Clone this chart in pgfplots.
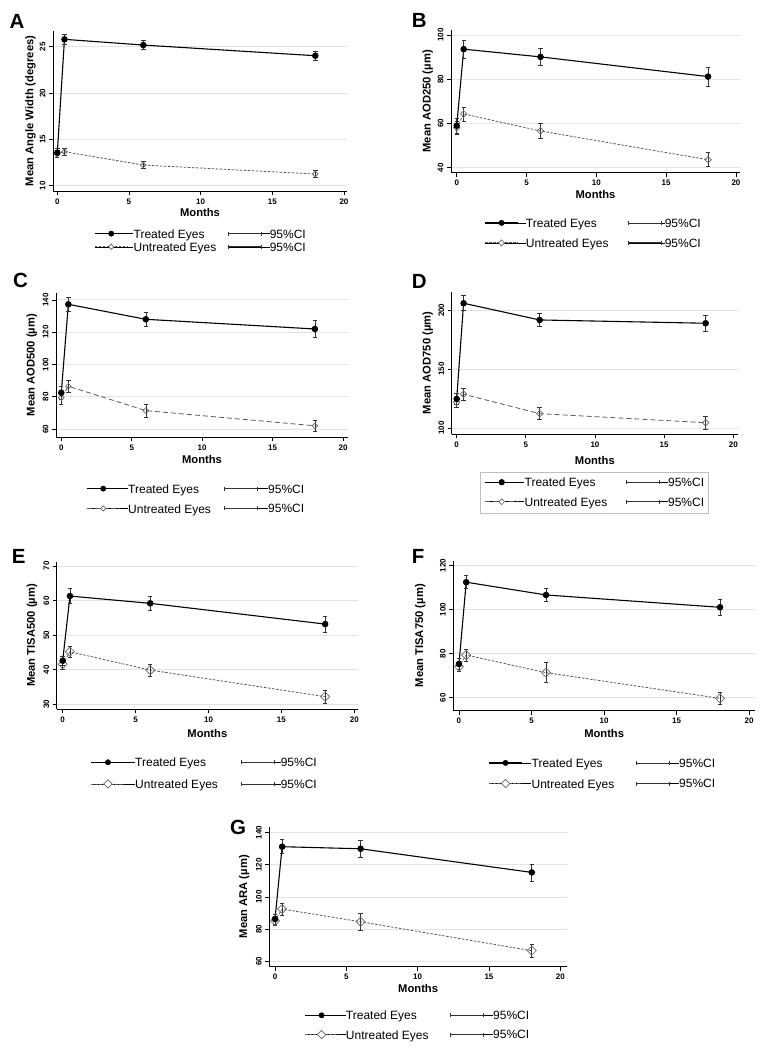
\documentclass[border=0pt]{standalone}
\usepackage{fontspec}
\setmainfont{Liberation Sans}
\usepackage{pgfplots}
\pgfplotsset{compat=1.18}

\pgfplotsset{
 panel/.style={
  scale only axis, axis lines=left, axis line style={-, line width=0.9pt, black},
  tick align=outside, major tick length=4pt, tick style={line width=0.8pt, black},
  xtick={0,5,10,15,20}, ymajorgrids, grid style={black!11, line width=0.9pt},
  tick label style={font=\bfseries\fontsize{8}{9.6}\selectfont},
  /pgf/number format/assume math mode=true,
  yticklabel style={rotate=90, anchor=south},
  label style={font=\bfseries\fontsize{11.2}{13}\selectfont},
  xlabel={Months},
  legend columns=2,
  legend cell align=left,
  legend style={draw=none, fill=none, inner sep=0pt, column sep=0pt,
    font=\fontsize{12}{14}\selectfont, nodes={inner sep=0pt}, anchor=north west},
 },
 errs/.style={forget plot,
  error bars/y dir=both, error bars/y explicit,
  error bars/error bar style={solid, line width=0.65pt, black!80},
  error bars/error mark options={solid, rotate=90, mark size=2.2pt, line width=0.65pt, black!80}},
 treated/.style={errs, black, line width=1.1pt, mark=*, mark size=2.7pt, mark options={solid, fill=black}},
 untreated/.style={errs, black!65, line width=0.8pt, mark=square, mark options={solid, rotate=45, fill=white, draw=black!60, line width=0.7pt}},
 sdash/.style={dash pattern=on 2.5pt off 1.5pt},
 ldash/.style={dash pattern=on 5pt off 3pt},
}

\newcommand{\myleg}[5]{%
 \addlegendimage{legend image code/.code={%
   \path (0pt,1pt) -- (#1pt,1pt);
   \draw[black, line width=1.1pt] (0pt,1pt) -- (33pt,1pt);
   \fill[black] (16.5pt,1pt) circle (2.7pt);}}
 \addlegendentry{\rule[-3pt]{0pt}{9pt}\makebox[#2pt][l]{Treated Eyes}}
 \addlegendimage{legend image code/.code={%
   \path (0pt,1pt) -- (#3pt,1pt);
   \draw[black!80, line width=0.65pt] (0pt,1pt) -- (33pt,1pt) (0pt,-1pt) -- (0pt,3pt) (33pt,-1pt) -- (33pt,3pt);}}
 \addlegendentry{\rule[-3pt]{0pt}{9pt}95\%CI}
 \addlegendimage{legend image code/.code={%
   \path (0pt,1pt) -- (#1pt,1pt);
   \draw[black!65, line width=0.8pt, #4] (0pt,1pt) -- (33pt,1pt);
   \draw[black!60, fill=white, line width=0.7pt, solid] (16.5pt,1pt) +(-#5pt,0pt) -- +(0pt,#5pt) -- +(#5pt,0pt) -- +(0pt,-#5pt) -- cycle;}}
 \addlegendentry{\rule[-3pt]{0pt}{9pt}\makebox[#2pt][l]{Untreated Eyes}}
 \addlegendimage{legend image code/.code={%
   \path (0pt,1pt) -- (#3pt,1pt);
   \draw[black!80, line width=0.65pt] (0pt,1pt) -- (33pt,1pt) (0pt,-1pt) -- (0pt,3pt) (33pt,-1pt) -- (33pt,3pt);}}
 \addlegendentry{\rule[-3pt]{0pt}{9pt}95\%CI}}

\begin{document}
\begin{tikzpicture}
\path[use as bounding box] (0pt,0pt) rectangle (763pt,-1050pt);

% ---------- A ----------
\begin{axis}[panel, at={(53pt,-191pt)}, anchor=south west, width=294pt, height=160.3pt,
  xmin=-0.30, xmax=20.21, ymin=9.43, ymax=26.73, ytick={10,15,20,25},
  ylabel={Mean Angle Width (degrees)},
  ylabel style={at={(axis description cs:-0.0765,0.5)}, anchor=center},
  xlabel style={at={(axis description cs:0.5,-0.131)}, anchor=center},
  legend style={at={(axis description cs:0.1395,-0.239)}, row sep=3pt}]
\addplot[untreated, sdash, mark size=2pt] table[row sep=\\, y error=e]{x y e\\ 0 13.42 0.35\\ 0.5 13.67 0.4\\ 6 12.23 0.4\\ 18 11.26 0.35\\};
\addplot[treated] table[row sep=\\, y error=e]{x y e\\ 0 13.56 0.45\\ 0.5 25.8 0.5\\ 6 25.18 0.5\\ 18 24.03 0.45\\};
\myleg{38.7}{94}{41.6}{dash pattern=on 2.5pt off 1.5pt}{2.6}
\end{axis}

% ---------- B ----------
\begin{axis}[panel, at={(451pt,-172.7pt)}, anchor=south west, width=289pt, height=142.7pt,
  xmin=-0.41, xmax=20.29, ymin=37.74, ymax=102.26, ytick={40,60,80,100},
  ylabel={Mean AOD250 (µm)},
  ylabel style={at={(axis description cs:-0.0806,0.5)}, anchor=center},
  xlabel style={at={(axis description cs:0.5,-0.156)}, anchor=center},
  legend style={at={(axis description cs:0.1152,-0.3217)}, row sep=9.7pt}]
\addplot[untreated, sdash, mark size=2.3pt] table[row sep=\\, y error=e]{x y e\\ 0 58.1 3.0\\ 0.5 64.3 3.2\\ 6 56.6 3.3\\ 18 43.6 3.2\\};
\addplot[treated] table[row sep=\\, y error=e]{x y e\\ 0 59.0 3.4\\ 0.5 93.6 4.2\\ 6 90.1 4.0\\ 18 81.2 4.2\\};
\myleg{40.7}{101.7}{36.6}{dash pattern=on 2.5pt off 1.5pt}{3}
\end{axis}

% ---------- C ----------
\begin{axis}[panel, at={(56pt,-437.3pt)}, anchor=south west, width=292pt, height=144.3pt,
  xmin=-0.376, xmax=20.35, ymin=54.85, ymax=144.3, ytick={60,80,100,120,140},
  ylabel={Mean AOD500 (µm)},
  ylabel style={at={(axis description cs:-0.0832,0.5)}, anchor=center},
  xlabel style={at={(axis description cs:0.5,-0.157)}, anchor=center},
  legend style={at={(axis description cs:0.1027,-0.3257)}, row sep=9.7pt}]
\addplot[untreated, ldash, mark size=2pt] table[row sep=\\, y error=e]{x y e\\ 0 79.4 3.8\\ 0.5 86.5 3.8\\ 6 71.4 3.9\\ 18 62 3.6\\};
\addplot[treated] table[row sep=\\, y error=e]{x y e\\ 0 82.5 3.9\\ 0.5 137.3 4.6\\ 6 128 4.1\\ 18 122 5.3\\};
\myleg{41.3}{95.4}{44}{dash pattern=on 5pt off 3pt}{2.6}
\end{axis}

% ---------- D ----------
\begin{axis}[panel, at={(451.7pt,-434pt)}, anchor=south west, width=286.3pt, height=142.3pt,
  xmin=-0.36, xmax=20.34, ymin=94.9, ymax=215.8, ytick={100,150,200},
  ylabel={Mean AOD750 (µm)},
  ylabel style={at={(axis description cs:-0.0838,0.5)}, anchor=center},
  xlabel style={at={(axis description cs:0.5,-0.183)}, anchor=center},
  legend style={at={(axis description cs:0.0988,-0.265)}, row sep=9.3pt,
    draw=black!25, line width=0.8pt, inner xsep=4.3pt, inner ysep=6pt}]
\addplot[untreated, ldash, mark size=2.3pt] table[row sep=\\, y error=e]{x y e\\ 0 121.9 4.5\\ 0.5 128.7 5.2\\ 6 112.2 5.2\\ 18 104.5 5.2\\};
\addplot[treated] table[row sep=\\, y error=e]{x y e\\ 0 124.7 5.0\\ 0.5 206 6.4\\ 6 191.8 5.7\\ 18 189 6.8\\};
\myleg{39}{101.7}{41}{dash pattern=on 5pt off 3pt}{2.8}
\end{axis}

% ---------- E ----------
\begin{axis}[panel, at={(56.7pt,-709.3pt)}, anchor=south west, width=301.3pt, height=147.6pt,
  xmin=-0.41, xmax=20.25, ymin=28.55, ymax=71.24, ytick={30,40,50,60,70},
  ylabel={Mean TISA500 (µm)},
  ylabel style={at={(axis description cs:-0.082,0.5)}, anchor=center},
  xlabel style={at={(axis description cs:0.5,-0.163)}, anchor=center},
  legend style={at={(axis description cs:0.1128,-0.33)}, row sep=11pt}]
\addplot[untreated, sdash, mark size=3.2pt] table[row sep=\\, y error=e]{x y e\\ 0 41.6 1.4\\ 0.5 45.2 1.6\\ 6 39.9 1.7\\ 18 32.2 1.8\\};
\addplot[treated] table[row sep=\\, y error=e]{x y e\\ 0 42.6 1.3\\ 0.5 61.3 2.1\\ 6 59.2 1.9\\ 18 53.2 2.3\\};
\myleg{43.6}{105.7}{39.3}{dash pattern=on 2.5pt off 1.5pt}{4.2}
\end{axis}

% ---------- F ----------
\begin{axis}[panel, at={(453.3pt,-710.7pt)}, anchor=south west, width=301.7pt, height=150pt,
  xmin=-0.39, xmax=20.41, ymin=54.09, ymax=122.27, ytick={60,80,100,120},
  ylabel={Mean TISA750 (µm)},
  ylabel style={at={(axis description cs:-0.1094,0.5)}, anchor=center},
  xlabel style={at={(axis description cs:0.5,-0.151)}, anchor=center},
  legend style={at={(axis description cs:0.116,-0.3193)}, row sep=10pt}]
\addplot[untreated, sdash, mark size=3.2pt] table[row sep=\\, y error=e]{x y e\\ 0 74.1 2.3\\ 0.5 79.4 2.65\\ 6 71.4 4.5\\ 18 59.7 2.8\\};
\addplot[treated] table[row sep=\\, y error=e]{x y e\\ 0 75.3 2.5\\ 0.5 112.5 3.0\\ 6 106.7 3.0\\ 18 101.1 3.8\\};
\myleg{42.4}{104.3}{42.7}{dash pattern=on 2.5pt off 1.5pt}{4.2}
\end{axis}

% ---------- G ----------
\begin{axis}[panel, at={(269.3pt,-966.7pt)}, anchor=south west, width=297.7pt, height=140pt,
  xmin=-0.4, xmax=20.47, ymin=56.64, ymax=143.73, ytick={60,80,100,120,140},
  ylabel={Mean ARA (µm)},
  ylabel style={at={(axis description cs:-0.084,0.5)}, anchor=center},
  xlabel style={at={(axis description cs:0.5,-0.154)}, anchor=center},
  legend style={at={(axis description cs:0.1176,-0.3164)}, row sep=8.6pt}]
\addplot[untreated, sdash, mark size=3.2pt] table[row sep=\\, y error=e]{x y e\\ 0 85.2 3.0\\ 0.5 92.5 3.6\\ 6 84.6 5.4\\ 18 66.6 3.9\\};
\addplot[treated] table[row sep=\\, y error=e]{x y e\\ 0 86.3 3.0\\ 0.5 131.3 4.35\\ 6 130 5.1\\ 18 115.3 5.3\\};
\myleg{40.7}{104.3}{42.4}{dash pattern=on 2.5pt off 1.5pt}{4.2}
\end{axis}

% panel letters
\begin{scope}[every node/.style={anchor=base west, inner sep=0pt, font=\bfseries\fontsize{20.5}{24}\selectfont}]
\node at (9.3pt,-28.3pt) {A};
\node at (411.7pt,-27.7pt) {B};
\node at (13pt,-287pt) {C};
\node at (411.7pt,-288pt) {D};
\node at (11.7pt,-563pt) {E};
\node at (411.7pt,-563pt) {F};
\node at (230pt,-834.3pt) {G};
\end{scope}
\end{tikzpicture}
\end{document}
